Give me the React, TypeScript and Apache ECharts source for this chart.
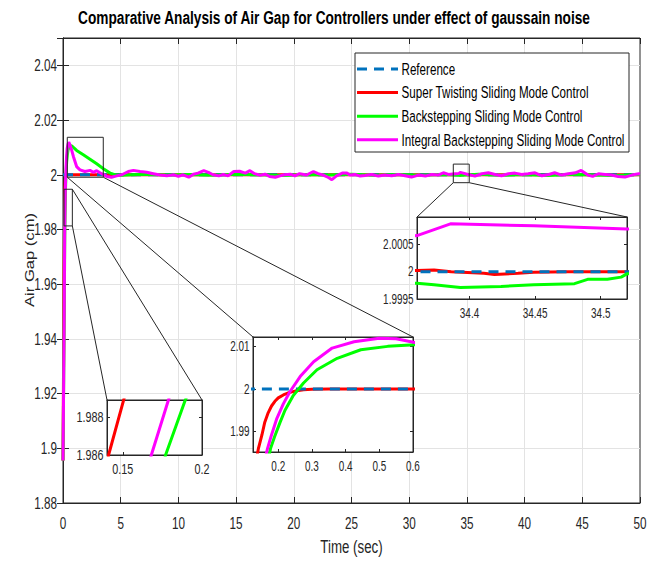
import React, { useEffect, useRef } from 'react';
import * as echarts from 'echarts';

const FONT = "'Liberation Sans', Arial, Helvetica, sans-serif";
const AX = '#262626';
const GRID = '#e3e3e3';
const SX = 0.72; // glyphs in the reference are horizontally condensed

const titleText = 'Comparative Analysis of Air Gap for Controllers under effect of gaussain noise';
const xName = 'Time (sec)';
const yName = 'Air Gap (cm)';
const seriesNames = [
  'Reference',
  'Super Twisting Sliding Mode Control',
  'Backstepping Sliding Mode Control',
  'Integral Backstepping Sliding Mode Control',
];
const seriesColors = ['#0072BD', '#FF0000', '#00FF00', '#FF00FF'];

// Reference
const refT = [0, 50];
const refY = [2, 2];

// Super Twisting SMC (red)
const stT = [0, 0.04, 0.08, 0.11, 0.13, 0.141, 0.1515, 0.16, 0.17, 0.18, 0.19, 0.2, 0.215, 0.23, 0.25, 0.275, 0.3, 0.35, 2, 4, 10, 20, 30,
  34.36, 34.373, 34.386, 34.411, 34.419, 34.437, 34.449, 34.475, 34.52, 40, 50];
const stY = [1.8955, 1.925, 1.953, 1.971, 1.9812, 1.986, 1.9892, 1.9922, 1.9944, 1.996, 1.9971, 1.9979, 1.9986, 1.9991, 1.9995, 1.9998, 1.99995, 2.0, 2.0, 2.00002, 1.99998, 2.00002, 2.0,
  2.00002, 2.00003, 2.0, 1.99997, 1.99995, 1.99997, 1.99999, 2.0, 2.0, 2.0, 2.0];

// Backstepping SMC (green)
const bsT = [0, 0.06, 0.12, 0.155, 0.177, 0.189, 0.205, 0.22, 0.245, 0.275, 0.315, 0.375, 0.445, 0.525, 0.605, 0.75, 0.9, 1.18, 1.76, 2.34, 2.92, 3.5, 4.08, 4.5,
  5, 7, 9, 11, 13, 15, 17, 19, 21, 23, 25, 27, 29, 31, 33,
  34.36, 34.373, 34.393, 34.424, 34.449, 34.48, 34.49, 34.505, 34.5155, 34.52,
  36, 38, 40, 42, 44, 46, 48, 50];
const bsY = [1.8955, 1.925, 1.957, 1.9775, 1.986, 1.9888, 1.9921, 1.995, 1.9985, 2.0014, 2.0045, 2.0072, 2.0092, 2.01, 2.0104, 2.0106, 2.01, 2.0089, 2.0073, 2.0057, 2.004, 2.0022, 2.0006, 2.0,
  1.9998, 2.0002, 1.9999, 2.0001, 1.9998, 2.0002, 2.0, 1.9997, 2.0001, 1.9999, 2.0002, 1.9998, 2.0001, 1.9998, 2.0001,
  1.99979, 1.99976, 1.99971, 1.99973, 1.99976, 1.99978, 1.99986, 1.99986, 1.9999, 1.99996,
  2.0002, 1.9998, 2.0001, 1.9997, 2.0002, 1.9999, 1.9997, 2.0001];

// Integral Backstepping SMC (magenta)
const ibsT = [0, 0.06, 0.11, 0.145, 0.168, 0.1788, 0.195, 0.215, 0.235, 0.265, 0.305, 0.36, 0.425, 0.5, 0.55, 0.605, 0.75, 0.9,
  1.18, 1.47, 1.9, 2.34, 2.63, 2.92, 3.35, 3.79, 4.2, 4.65, 5.1, 5.66, 6.1, 6.68, 7.25, 7.83, 8.4, 9.0, 9.57, 10.0, 10.4, 10.9,
  11.3, 11.7, 12.2, 12.6, 13.0, 13.5, 13.9, 14.3, 14.8, 15.3, 15.8, 16.2, 16.6, 17.1, 17.5, 17.9, 18.4, 18.8, 19.2, 19.7,
  20.1, 20.5, 21.1, 21.7, 22.1, 22.6, 23.0, 23.3, 23.7, 24.2, 24.6, 24.87, 25.3, 25.74, 26.17, 26.75, 27.33, 27.9, 28.48,
  29.06, 29.64, 30.2, 30.8, 31.4, 31.95, 32.5, 32.96, 33.4, 33.97, 34.3, 34.36, 34.3855, 34.449, 34.52, 34.6, 35.1, 35.7,
  36.3, 36.86, 37.44, 38.0, 38.6, 39.17, 39.75, 40.3, 40.9, 41.5, 42.1, 42.6, 43.2, 43.8, 44.4, 44.9, 45.5, 45.9, 46.4,
  46.97, 47.5, 48.1, 48.7, 49.3, 49.9, 50];
const ibsY = [1.8955, 1.925, 1.953, 1.9778, 1.986, 1.9889, 1.9929, 1.9965, 1.9994, 2.0029, 2.0064, 2.0096, 2.0111, 2.0119, 2.0118, 2.0109, 2.009, 2.0067,
  2.003, 2.0018, 2.0012, 2.0016, 2.0009, 2.0015, 2.0004, 1.9994, 1.9991, 1.9996, 2.0, 2.0012, 2.0016, 2.0012, 2.0009, 2.0004, 1.9999, 1.9996, 2.0, 1.9994, 2.0, 1.9991,
  2.0002, 2.0006, 2.0015, 2.0009, 2.0, 1.9996, 2.0001, 1.9996, 2.0012, 2.0013, 2.0006, 2.0015, 2.0004, 1.9998, 2.0002, 1.9994, 1.9991, 1.9996, 2.0, 2.0002,
  1.9996, 2.0004, 1.9999, 2.0012, 2.0004, 1.9998, 1.999, 1.9982, 1.9996, 2.0006, 2.0006, 1.99988, 2.00012, 1.99951, 1.99976, 2.00012, 1.99951, 1.99988, 1.99963,
  2.00012, 1.99963, 1.99915, 1.99988, 1.99951, 2.00012, 1.99988, 2.00073, 2.00012, 2.00037, 2.0005, 2.00066, 2.000875, 2.00084, 2.00078, 2.0007, 2.00012, 1.99951,
  2.00037, 2.00073, 2.00012, 1.99963, 2.00037, 2.00061, 2.00012, 2.00037, 2.00073, 1.99963, 2.00012, 2.00073, 1.99988, 2.00037, 2.00073, 2.00159, 1.99988, 1.99939, 2.00037,
  2.00012, 1.99988, 1.99939, 1.99915, 1.99988, 2.00037, 2.0003];

// Main axes
const mainX = [0, 50];
const mainXInterval = 5;
const mainXTicks = [0, 5, 10, 15, 20, 25, 30, 35, 40, 45, 50];
const mainY = [1.88, 2.05];
const mainYInterval = 0.02;
const mainYTicks = [1.88, 1.9, 1.92, 1.94, 1.96, 1.98, 2, 2.02, 2.04];

// Insets (ranges and tick labels)
const inset1X = [0.14, 0.2];
const inset1Y = [1.986, 1.9889];
const inset1XTicks = [0.15, 0.2];
const inset1YTicks = [1.986, 1.988];

const inset2X = [0.125, 0.6];
const inset2Y = [1.9852, 2.0122];
const inset2XTicks = [0.2, 0.3, 0.4, 0.5, 0.6];
const inset2YTicks = [1.99, 2, 2.01];

const inset3X = [34.36, 34.52];
const inset3Y = [1.9995, 2.001];
const inset3XTicks = [34.4, 34.45, 34.5];
const inset3YTicks = [1.9995, 2, 2.0005];

// Zoomed regions marked in main plot (data coords)
const box1X = [0.09, 0.81];
const box1Y = [1.9813, 1.9947];
const box2X = [0.37, 3.49];
const box2Y = [1.9991, 2.0137];
const box3X = [33.82, 35.2];
const box3Y = [1.9971, 2.0039];

const pairs = (t: number[], y: number[]) => t.map((v, i) => [v, y[i]]);
const fmt = (v: number) => String(parseFloat(Number(v).toFixed(6)));

const txt = (text: string, x: number, y: number, size: number, align: string, vAlign: string, o: any = {}) => ({
  type: 'text', x, y, silent: true, z: o.z ?? 40,
  scaleX: o.sx ?? SX, scaleY: o.sy ?? 1, rotation: o.rot ?? 0,
  style: {
    text, fontFamily: FONT, fontSize: size, fontWeight: o.bold ? 'bold' : 'normal',
    fill: o.fill ?? AX, align, verticalAlign: vAlign,
  },
});

export default function App() {
  const ref = useRef<HTMLDivElement>(null);

  useEffect(() => {
    if (!ref.current) return;
    const chart = echarts.init(ref.current, undefined, { renderer: 'svg' });

    const lineDefs = [
      { name: seriesNames[1], data: pairs(stT, stY), color: seriesColors[1], dashed: false, z: 2 },
      { name: seriesNames[0], data: pairs(refT, refY), color: seriesColors[0], dashed: true, z: 3 },
      { name: seriesNames[2], data: pairs(bsT, bsY), color: seriesColors[2], dashed: false, z: 4 },
      { name: seriesNames[3], data: pairs(ibsT, ibsY), color: seriesColors[3], dashed: false, z: 5 },
    ];

    const series: any[] = [];
    for (let g = 0; g < 4; g++) {
      lineDefs.forEach((d) => {
        series.push({
          type: 'line', name: d.name, data: d.data,
          xAxisIndex: g * 2, yAxisIndex: g * 2,
          showSymbol: false, symbol: 'none', clip: true,
          z: d.z + (g > 0 ? 10 : 0),
          lineStyle: { color: d.color, width: 3, type: d.dashed ? [10, 7] : 'solid' },
          itemStyle: { color: d.color },
          emphasis: { disabled: true },
        });
      });
    }

    const tickStyle = (len: number, custom?: number[]) => ({
      show: true, inside: true, length: len, lineStyle: { color: AX },
      ...(custom ? { customValues: custom } : {}),
    });

    const insetAxes = (grid: number, xr: number[], yr: number[], xt: number[], yt: number[]) => {
      const base = {
        type: 'value', gridIndex: grid, z: 11,
        axisLine: { show: true, lineStyle: { color: AX, width: 1 } },
        splitLine: { show: false }, axisLabel: { show: false },
      };
      return {
        xs: [
          { ...base, min: xr[0], max: xr[1], position: 'bottom', axisTick: tickStyle(3, xt) },
          { ...base, min: xr[0], max: xr[1], position: 'top', axisTick: tickStyle(3, xt) },
        ],
        ys: [
          { ...base, min: yr[0], max: yr[1], position: 'left', axisTick: tickStyle(3, yt) },
          { ...base, min: yr[0], max: yr[1], position: 'right', axisTick: tickStyle(3, yt) },
        ],
      };
    };

    const i1 = insetAxes(1, inset1X, inset1Y, inset1XTicks, inset1YTicks);
    const i2 = insetAxes(2, inset2X, inset2Y, inset2XTicks, inset2YTicks);
    const i3 = insetAxes(3, inset3X, inset3Y, inset3XTicks, inset3YTicks);

    const mainBase = {
      type: 'value', gridIndex: 0,
      axisLine: { show: true, lineStyle: { color: AX, width: 1 } },
      axisLabel: { show: false },
    };
    const split = { show: true, showMinLine: false, showMaxLine: false, lineStyle: { color: GRID, width: 1 } };

    const xAxis: any[] = [
      { ...mainBase, min: mainX[0], max: mainX[1], interval: mainXInterval, position: 'bottom', axisTick: tickStyle(6), splitLine: split },
      { ...mainBase, min: mainX[0], max: mainX[1], interval: mainXInterval, position: 'top', axisTick: tickStyle(6), splitLine: { show: false } },
      ...i1.xs, ...i2.xs, ...i3.xs,
    ];
    const yAxis: any[] = [
      { ...mainBase, min: mainY[0], max: mainY[1], interval: mainYInterval, position: 'left', axisTick: tickStyle(6), splitLine: split },
      { ...mainBase, min: mainY[0], max: mainY[1], interval: mainYInterval, position: 'right', axisTick: tickStyle(6), splitLine: { show: false } },
      ...i1.ys, ...i2.ys, ...i3.ys,
    ];

    const gridBox = { show: true, backgroundColor: '#fff', borderColor: AX, borderWidth: 1, containLabel: false };

    chart.setOption({
      animation: false,
      backgroundColor: '#fff',
      grid: [
        { ...gridBox, left: 63, top: 38, right: 21, bottom: 58, z: 0 },
        { ...gridBox, left: 107, top: 400, width: 95, height: 55, z: 10 },
        { ...gridBox, left: 253, top: 337, width: 160, height: 115, z: 10 },
        { ...gridBox, left: 417, top: 217, width: 210, height: 82, z: 10 },
      ],
      xAxis, yAxis, series,
    });

    const px = (k: number, pt: number[]) => chart.convertToPixel({ xAxisIndex: k, yAxisIndex: k } as any, pt) as number[];
    const g: any[] = [];

    // zoom boxes and connectors
    const boxes = [
      { bx: box1X, by: box1Y, k: 2, ix: inset1X, iy: inset1Y, links: [[1, 1, 1], [1, 0, 0]] },
      { bx: box2X, by: box2Y, k: 4, ix: inset2X, iy: inset2Y, links: [[0, 0, 0], [1, 0, 1]] },
      { bx: box3X, by: box3Y, k: 6, ix: inset3X, iy: inset3Y, links: [[0, 0, 0], [1, 0, 1]] },
    ];
    boxes.forEach((b) => {
      const a = px(0, [b.bx[0], b.by[1]]);
      const c = px(0, [b.bx[1], b.by[0]]);
      g.push({
        type: 'rect', z: 20, silent: true,
        shape: { x: a[0], y: a[1], width: c[0] - a[0], height: c[1] - a[1] },
        style: { fill: 'none', stroke: AX, lineWidth: 1 },
      });
      b.links.forEach(([bxi, byi, ixi]) => {
        const s = px(0, [b.bx[bxi], b.by[byi]]);
        const e = px(b.k, [b.ix[ixi], b.iy[1]]);
        g.push({
          type: 'line', z: 9, silent: true,
          shape: { x1: s[0], y1: s[1], x2: e[0], y2: e[1] },
          style: { stroke: AX, lineWidth: 1 },
        });
      });
    });

    // main tick labels
    mainXTicks.forEach((v) => {
      const p = px(0, [v, mainY[0]]);
      g.push(txt(fmt(v), p[0], p[1] + 20, 16.3, 'center', 'middle'));
    });
    mainYTicks.forEach((v) => {
      const p = px(0, [mainX[0], v]);
      g.push(txt(fmt(v), p[0] - 6, p[1], 16.3, 'right', 'middle'));
    });

    // inset tick labels
    const insets = [
      { k: 2, ix: inset1X, iy: inset1Y, xt: inset1XTicks, yt: inset1YTicks, size: 15 },
      { k: 4, ix: inset2X, iy: inset2Y, xt: inset2XTicks, yt: inset2YTicks, size: 13.8 },
      { k: 6, ix: inset3X, iy: inset3Y, xt: inset3XTicks, yt: inset3YTicks, size: 13.8 },
    ];
    insets.forEach((s) => {
      s.xt.forEach((v) => {
        const p = px(s.k, [v, s.iy[0]]);
        g.push(txt(fmt(v), p[0], p[1] + 14, s.size, 'center', 'middle'));
      });
      s.yt.forEach((v) => {
        const p = px(s.k, [s.ix[0], v]);
        g.push(txt(fmt(v), p[0] - 3.5, p[1], s.size, 'right', 'middle'));
      });
    });

    // axis names and title
    const bl = px(0, [mainX[0], mainY[0]]);
    const tr = px(0, [mainX[1], mainY[1]]);
    g.push(txt(xName, (bl[0] + tr[0]) / 2, bl[1] + 43, 18.5, 'center', 'middle'));
    g.push(txt(yName, 30, 260, 16.6, 'center', 'middle', { sx: 1, sy: SX, rot: Math.PI / 2 }));
    g.push(txt(titleText, 334, 18, 19, 'center', 'middle', { bold: true, fill: '#000' }));

    // legend
    const lgLeft = 355, lgTop = 53, lgW = 274, lgH = 99, rowGap = 23.6, row0 = 69;
    g.push({
      type: 'rect', z: 30, silent: true,
      shape: { x: lgLeft, y: lgTop, width: lgW, height: lgH },
      style: { fill: '#fff', stroke: AX, lineWidth: 1 },
    });
    seriesNames.forEach((name, i) => {
      const y = row0 + i * rowGap;
      g.push({
        type: 'line', z: 31, silent: true,
        shape: { x1: lgLeft + 2, y1: y, x2: lgLeft + 43, y2: y },
        style: { stroke: seriesColors[i], lineWidth: 3, lineDash: i === 0 ? [10, 7] : null },
      });
      g.push(txt(name, lgLeft + 46.5, y, 16.5, 'left', 'middle', { sx: 0.705, fill: '#000', z: 32 }));
    });

    chart.setOption({ graphic: g });

    return () => chart.dispose();
  }, []);

  return <div ref={ref} style={{ position: 'fixed', left: 0, top: 0, width: 661, height: 561 }} />;
}
